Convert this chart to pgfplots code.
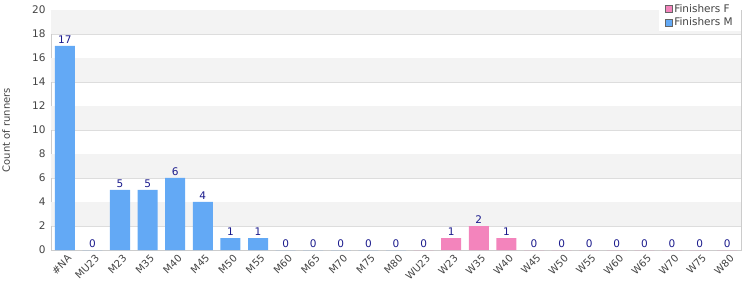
\documentclass[border=0pt]{standalone}
\usepackage{pgfplots}
\pgfplotsset{compat=1.18}
\usepackage{fontspec}
\setmainfont{DejaVu Sans}
\definecolor{barM}{HTML}{63A9F5}
\definecolor{barF}{HTML}{F384BC}
\definecolor{lblc}{HTML}{1A1A8C}
\definecolor{tickc}{HTML}{444444}
\definecolor{gridc}{HTML}{DDDDDD}
\definecolor{bandc}{HTML}{F3F3F3}
\definecolor{framec}{HTML}{CCCCCC}
\begin{document}
\begin{tikzpicture}
\path[use as bounding box] (-51pt,-50pt) rectangle (699pt,250pt);
\begin{axis}[
  scale only axis,
  width=690pt, height=240pt,
  xmin=-0.5, xmax=24.5,
  ymin=0, ymax=20,
  ytick={0,2,...,20},
  xtick={0,...,24},
  /pgf/number format/assume math mode=true,
  xticklabels={\#NA,MU23,M23,M35,M40,M45,M50,M55,M60,M65,M70,M75,M80,WU23,W23,W35,W40,W45,W50,W55,W60,W65,W70,W75,W80},
  x tick label style={rotate=45, anchor=north east, font=\fontsize{10}{11}\selectfont, text=tickc, inner sep=1pt, yshift=-3pt},
  y tick label style={font=\fontsize{10.5}{11}\selectfont, text=tickc, xshift=-2pt},
  major tick length=0pt,
  ymajorgrids, grid style={gridc, line width=0.8pt},
  axis line style={framec, line width=0.8pt},
  ylabel={Count of runners},
  every axis y label/.style={at={(rel axis cs:-0.065,0.5)}, rotate=90, anchor=center, font=\fontsize{10}{11}\selectfont, text=tickc},
  legend style={at={(1,1)}, anchor=north east, yshift=10pt, draw=none, fill=white,
     font=\fontsize{10.5}{12}\selectfont, text=tickc, row sep=0pt, inner xsep=6pt, inner ysep=2pt},
  legend cell align=left,
  legend image code/.code={\draw[#1, draw=gray!80!black, line width=0.6pt] (0pt,-3.5pt) rectangle (7pt,3.5pt);},
  nodes near coords,
  every node near coord/.append style={font=\fontsize{10.5}{11}\selectfont, text=lblc, inner sep=2pt},
]
\fill[bandc] (axis cs:-0.5,2) rectangle (axis cs:24.5,4);
\fill[bandc] (axis cs:-0.5,6) rectangle (axis cs:24.5,8);
\fill[bandc] (axis cs:-0.5,10) rectangle (axis cs:24.5,12);
\fill[bandc] (axis cs:-0.5,14) rectangle (axis cs:24.5,16);
\fill[bandc] (axis cs:-0.5,18) rectangle (axis cs:24.5,20);
\addplot[ybar, bar width=20pt, bar shift=0pt, fill=barF, draw=none] coordinates {
(13,0) (14,1) (15,2) (16,1) (17,0) (18,0) (19,0) (20,0) (21,0) (22,0) (23,0) (24,0)};
\addlegendentry{Finishers F}
\addplot[ybar, bar width=20pt, bar shift=0pt, fill=barM, draw=none] coordinates {
(0,17) (1,0) (2,5) (3,5) (4,6) (5,4) (6,1) (7,1) (8,0) (9,0) (10,0) (11,0) (12,0)};
\addlegendentry{Finishers M}
\end{axis}
\end{tikzpicture}
\end{document}
